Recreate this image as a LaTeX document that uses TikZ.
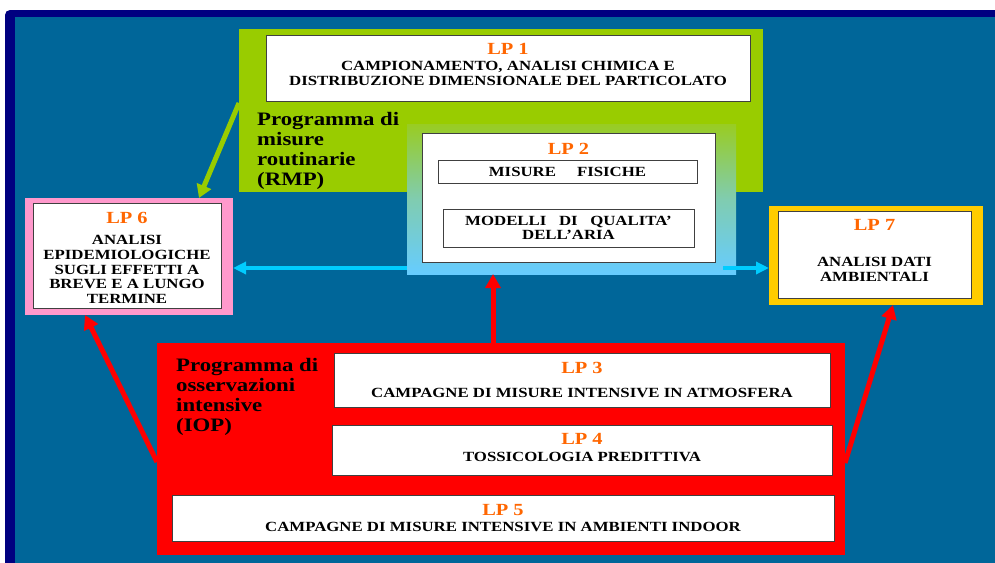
\documentclass[tikz,border=0pt]{standalone}
\usepackage{fontspec}
\setmainfont{Liberation Serif}[FakeStretch=1.2]
\usetikzlibrary{arrows.meta}
\definecolor{navyframe}{HTML}{000080}
\definecolor{bgblue}{HTML}{006699}
\definecolor{rmpgreen}{HTML}{99CC00}
\definecolor{lppink}{HTML}{FF99CC}
\definecolor{lpyellow}{HTML}{FFCC00}
\definecolor{iopred}{HTML}{FF0000}
\definecolor{lporange}{HTML}{FF6600}
\definecolor{arrcyan}{HTML}{00CCFF}
\definecolor{gradtop}{HTML}{99CC22}
\definecolor{gradmid}{HTML}{80CCB0}
\definecolor{gradbot}{HTML}{66CCFF}
\tikzset{
  panel/.style={inner sep=0pt, outer sep=0pt, draw=none},
  whitebox/.style={draw=black!75, line width=1pt, fill=white, inner sep=0pt, outer sep=0pt},
  lplabel/.style={text=lporange, font=\bfseries\fontsize{17}{17}\selectfont, inner sep=0pt},
  boxtext/.style={font=\bfseries\fontsize{14}{14.6}\selectfont, align=center, inner sep=0pt, text=black},
  progtext/.style={font=\bfseries\fontsize{19}{20}\selectfont, align=left, inner sep=0pt, anchor=north west, text=black},
  greenarrow/.style={draw=rmpgreen, line width=5pt, -{Triangle[length=13pt,width=15pt]}},
  cyanarrow/.style={draw=arrcyan, line width=4pt, -{Triangle[length=13pt,width=12pt]}},
  redarrow/.style={draw=iopred, line width=5pt, -{Triangle[length=14pt,width=15pt]}}
}
\begin{document}
\begin{tikzpicture}[x=1pt,y=-1pt]
\useasboundingbox (0,0) rectangle (995,562);
\clip (0,0) rectangle (995,562);
\fill[white] (0,0) rectangle (995,562);
\fill[navyframe, rounded corners=5pt] (5,10) rectangle (1010,580);
\fill[bgblue] (15,17) rectangle (1010,580);

% RMP panel
\node[panel, fill=rmpgreen, minimum width=524pt, minimum height=163pt] (rmp) at (501,110.5) {};
\node[whitebox, minimum width=484pt, minimum height=66pt] (lp1) at (508,68) {};
\node[lplabel] (lp1t) at (508,49) {LP 1};
\node[boxtext] (lp1x) at (508,73.5) {CAMPIONAMENTO, ANALISI CHIMICA E\\DISTRIBUZIONE DIMENSIONALE DEL PARTICOLATO};
\node[progtext] (rmpt) at (257,112) {Programma di\\misure\\routinarie\\(RMP)};

% LP2
\node[panel, minimum width=329pt, minimum height=150pt, top color=gradtop, bottom color=gradbot, middle color=gradmid, shading angle=0] (lp2o) at (571.5,199) {};
\node[whitebox, minimum width=293pt, minimum height=129pt] (lp2) at (568.5,197.5) {};
\node[lplabel] (lp2t) at (568.5,149) {LP 2};
\node[whitebox, minimum width=259pt, minimum height=23pt] (mf) at (567.5,171.5) {};
\node[boxtext] (mft) at (567.5,172) {MISURE\hspace{1.5em}FISICHE};
\node[whitebox, minimum width=251pt, minimum height=38pt] (mod) at (568.5,228) {};
\node[boxtext] (modt) at (568.5,228) {MODELLI\ \ \ DI\ \ \ QUALITA'\\DELL'ARIA};

% LP6
\node[panel, fill=lppink, minimum width=208pt, minimum height=117pt] (lp6o) at (129,256.5) {};
\node[whitebox, minimum width=188pt, minimum height=105pt] (lp6) at (127,255.5) {};
\node[lplabel] (lp6t) at (127,218) {LP 6};
\node[boxtext] (lp6x) at (127,269.5) {ANALISI\\EPIDEMIOLOGICHE\\SUGLI EFFETTI A\\BREVE E A LUNGO\\TERMINE};

% LP7
\node[panel, fill=lpyellow, minimum width=214pt, minimum height=99pt] (lp7o) at (876,255.5) {};
\node[whitebox, minimum width=193pt, minimum height=87pt] (lp7) at (874.5,254.5) {};
\node[lplabel] (lp7t) at (874.5,225) {LP 7};
\node[boxtext] (lp7x) at (874.5,269.5) {ANALISI DATI\\AMBIENTALI};

% IOP
\node[panel, fill=iopred, minimum width=688pt, minimum height=212pt] (iop) at (501,449) {};
\node[progtext] (iopt) at (176,358) {Programma di\\osservazioni\\intensive\\(IOP)};
\node[whitebox, minimum width=496pt, minimum height=54pt] (lp3) at (582,380) {};
\node[lplabel] (lp3t) at (582,368) {LP 3};
\node[boxtext] (lp3x) at (582,393) {CAMPAGNE DI MISURE INTENSIVE IN ATMOSFERA};
\node[whitebox, minimum width=500pt, minimum height=50pt] (lp4) at (582,450) {};
\node[lplabel] (lp4t) at (582,439) {LP 4};
\node[boxtext] (lp4x) at (582,457) {TOSSICOLOGIA PREDITTIVA};
\node[whitebox, minimum width=662pt, minimum height=46pt] (lp5) at (503,518) {};
\node[lplabel] (lp5t) at (503,510) {LP 5};
\node[boxtext] (lp5x) at (503,527) {CAMPAGNE DI MISURE INTENSIVE IN AMBIENTI INDOOR};

% arrows
\draw[greenarrow] ([yshift=7.5pt]rmp.west) -- ([xshift=70pt]lp6o.north);
\draw[cyanarrow] ([yshift=-69pt]lp2o.west) -- ([yshift=-11.5pt]lp6o.east);
\draw[cyanarrow] ([xshift=-13pt,yshift=-69pt]lp2o.east) -- ([yshift=-12.5pt]lp7o.west);
\draw[redarrow] ([xshift=-8pt]iop.north) -- ([xshift=-78.5pt]lp2o.south);
\draw[redarrow] ([yshift=-13pt]iop.west) -- ([xshift=-44pt]lp6o.south);
\draw[redarrow] ([yshift=-14pt]iop.east) -- ([xshift=17pt]lp7o.south);
\end{tikzpicture}
\end{document}
